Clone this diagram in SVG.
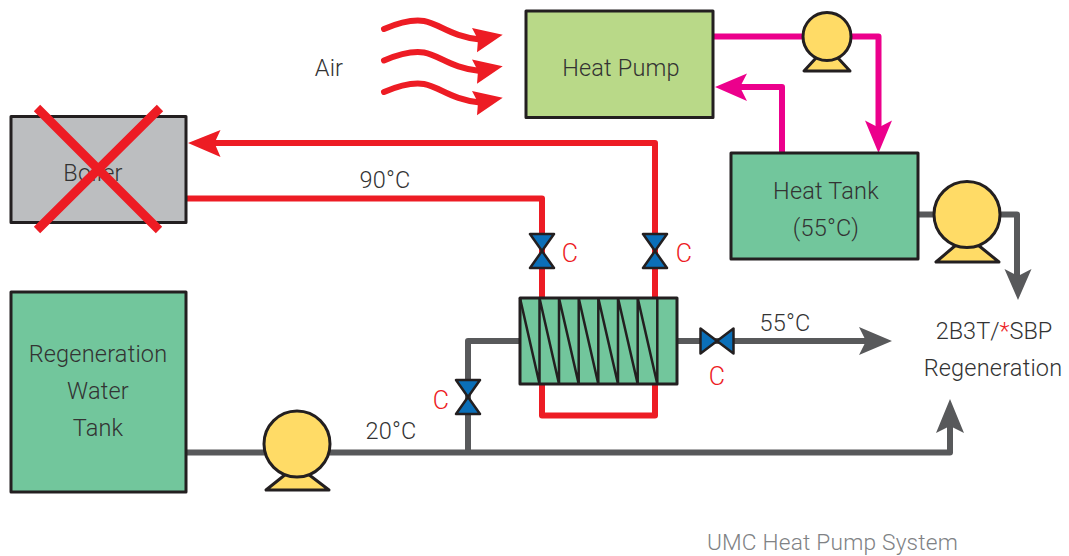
<svg xmlns="http://www.w3.org/2000/svg" width="1069" height="556" viewBox="0 0 1069 556">
<style>
text{font-family:Roboto,"Liberation Sans",Arial,sans-serif;font-size:23.5px;letter-spacing:.2px;fill:#333;text-anchor:middle;font-weight:300}
.box{stroke:#231f20;stroke-width:3;stroke-linejoin:round}
.g{fill:#72c69c}
.pipe{fill:none;stroke-width:6;stroke-linejoin:round}
.red{stroke:#ed1c24}.pink{stroke:#ec008c}.gray{stroke:#58595b}
.fred{fill:#ed1c24}.fpink{fill:#ec008c}.fgray{fill:#58595b}
.pump{fill:#ffdb66;stroke:#231f20;stroke-width:3;stroke-linejoin:round}
.valve{fill:#0b6fb8;stroke:#231f20;stroke-width:2.5;stroke-linejoin:round}
text.c{fill:#ed1c24;font-size:25px}
.air{fill:none;stroke:#ed1c24;stroke-width:6;stroke-linecap:round}
</style>
<defs>
<g id="valveV"><path class="valve" d="M-12 -17H12L-12 17H12Z"/></g>
<path id="airArrow" class="air" d="M384 29C398 23 411 19 424 21C440 24 452 37 480 39.500"/>
<path id="airHead" class="fred" d="M502.700 34.700L472 28L478 39.500L477 52.300Z"/>
</defs>
<g id="connectors">
<path class="pipe pink" d="M713 36.500H878.500V130"/>
<path class="fpink" d="M878.500 153L865 120.500L878.500 127.500L892 120.500Z"/>
<path class="pipe pink" d="M782 153V87H737"/>
<path class="fpink" d="M715 87L747 73.500L740 87L747 101Z"/>
<path class="pipe red" d="M655 298V143H211"/>
<path class="fred" d="M188 143L220.500 130L214.500 143L220.500 157Z"/>
<path class="pipe red" d="M186 198.500H542V298"/>
<path class="pipe red" d="M542 384V415.500H655V384"/>
<path class="pipe gray" d="M519 341H468V452"/>
<path class="pipe gray" d="M677 341H868"/>
<path class="fgray" d="M892 341L859 327L866 341L859 355Z"/>
<path class="pipe gray" d="M186 452.500H950V423"/>
<path class="fgray" d="M950 399L936 433L950 426L964 433Z"/>
<path class="pipe gray" d="M918 214.500H1017V278"/>
<path class="fgray" d="M1018 300L1004.500 269L1018 276L1031.500 269Z"/>
</g>
<g id="air-flow">
<use href="#airArrow"/><use href="#airHead"/>
<use href="#airArrow" y="31.500"/><use href="#airHead" y="31.500"/>
<use href="#airArrow" y="63"/><use href="#airHead" y="63"/>
<text x="329" y="75.500">Air</text>
</g>
<g id="heat-pump">
<rect class="box" x="526" y="11" width="187" height="106.500" fill="#b9d988"/>
<text x="621" y="76">Heat Pump</text>
</g>
<g id="pump-top">
<path class="pump" d="M816 58L804 71H850L838 58Z"/>
<circle class="pump" cx="827" cy="36.500" r="24"/>
</g>
<g id="boiler">
<rect class="box" x="11" y="116.500" width="175" height="106" fill="#bcbec0"/>
<text x="93" y="180.500">Boiler</text>
<path d="M37 108L159 230M160 108L37 230" stroke="#ed1c24" stroke-width="9" fill="none"/>
</g>
<g id="heat-tank">
<rect class="box g" x="731" y="153" width="187" height="106"/>
<text x="826" y="198.500">Heat Tank</text>
<text x="826" y="235.500">(55°C)</text>
</g>
<g id="pump-tank">
<path class="pump" d="M956 245L936 262H999L978 245Z"/>
<circle class="pump" cx="967" cy="214.500" r="33"/>
</g>
<g id="regen-tank">
<rect class="box g" x="11" y="292" width="175" height="200"/>
<text x="98" y="362">Regeneration</text>
<text x="98" y="399">Water</text>
<text x="98" y="436">Tank</text>
</g>
<g id="pump-main">
<path class="pump" d="M286 474L266 490H329L308 474Z"/>
<circle class="pump" cx="297" cy="444" r="33"/>
</g>
<g id="heat-exchanger">
<rect class="box g" x="520" y="298" width="157" height="86"/>
<path d="M539.500 298V384M559 298V384M578.700 298V384M598.300 298V384M618 298V384M637.700 298V384M657.300 298V384M520 298L539.500 384M539.500 298L559 384M559 298L578.700 384M578.700 298L598.300 384M598.300 298L618 384M618 298L637.700 384M637.700 298L657.300 384" fill="none" stroke="#231f20" stroke-width="2.500"/>
</g>
<g id="valve-1"><use href="#valveV" x="542" y="251"/><text class="c" x="570" y="262">C</text></g>
<g id="valve-2"><use href="#valveV" x="655" y="251"/><text class="c" x="684" y="262">C</text></g>
<g id="valve-3"><use href="#valveV" x="468" y="397"/><text class="c" x="441" y="409">C</text></g>
<g id="valve-4"><path class="valve" d="M700.500 328.500V353.500L733.500 328.500V353.500Z"/><text class="c" x="717" y="385">C</text></g>
<g id="labels">
<text x="385" y="188">90°C</text>
<text x="785" y="331">55°C</text>
<text x="391" y="439">20°C</text>
<text x="994" y="339" style="letter-spacing:0">2B3T/<tspan fill="#ed1c24">*</tspan>SBP</text>
<text x="993" y="376">Regeneration</text>
<text x="832.500" y="550" style="fill:#808285;font-size:22.700px">UMC Heat Pump System</text>
</g>
</svg>
